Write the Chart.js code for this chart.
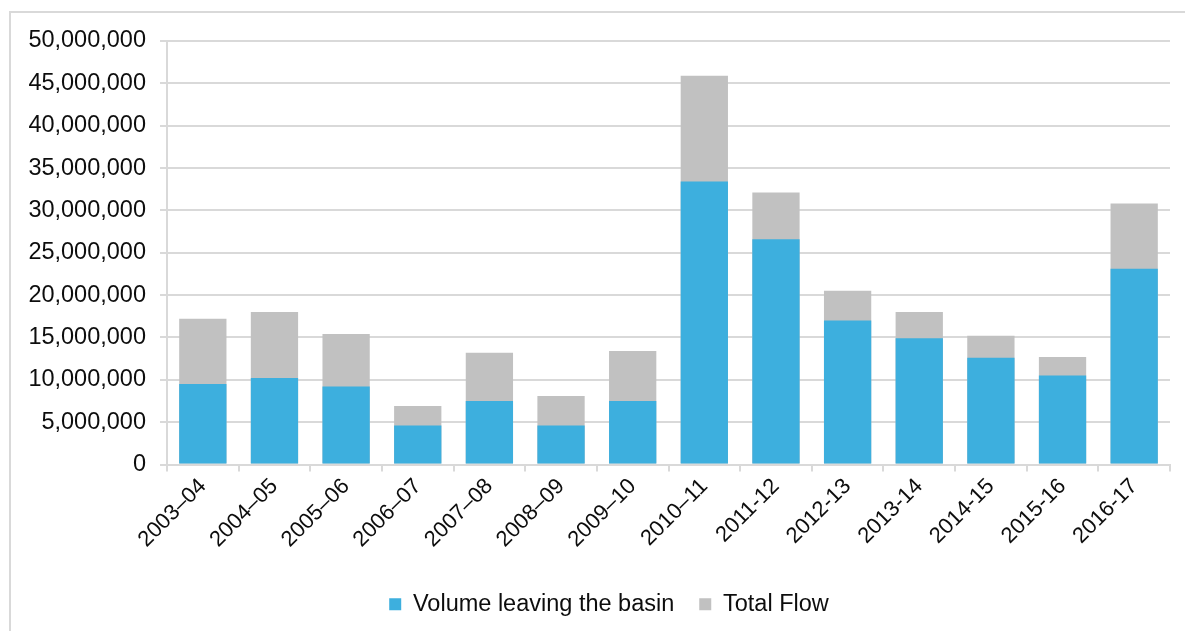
<!DOCTYPE html>
<html>
<head>
<meta charset="utf-8">
<script src="https://cdn.jsdelivr.net/npm/chart.js@4"></script>
<style>
  html, body { margin: 0; padding: 0; background: #fff; }
  body { width: 1185px; height: 631px; overflow: hidden; position: relative; }
  .frame { position: absolute; left: 9px; top: 11px; width: 1200px; height: 640px; border: 2px solid #d9d9d9; box-sizing: border-box; }
  .wrap { position: absolute; left: 0; top: 0; width: 1185px; height: 626px; }
</style>
</head>
<body>
<div class="frame"></div>
<div class="wrap"><canvas id="grafico"></canvas></div>
<script>
const anos = ['2003–04', '2004–05', '2005–06', '2006–07', '2007–08', '2008–09', '2009–10',
  '2010–11', '2011-12', '2012-13', '2013-14', '2014-15', '2015-16', '2016-17'];
const volumeSaida = [9500000, 10200000, 9200000, 4600000, 7500000, 4600000, 7500000,
  33400000, 26600000, 17000000, 14900000, 12600000, 10500000, 23100000];
const fluxoTotal = [17200000, 18000000, 15400000, 6900000, 13200000, 8100000, 13400000,
  45900000, 32100000, 20500000, 18000000, 15200000, 12700000, 30800000];
const ticksY = [0, 5000000, 10000000, 15000000, 20000000, 25000000, 30000000, 35000000, 40000000, 45000000, 50000000];

Chart.defaults.font.family = '"Liberation Sans", Arial, sans-serif';
Chart.defaults.color = '#0d0d0d';

// legenda fica um pouco à direita do centro, como no original
const moveLegenda = {
  id: 'moveLegenda',
  afterLayout(chart) {
    chart.legend.left += 24;
    chart.legend.right += 24;
  }
};

const ctx = document.getElementById('grafico');

new Chart(ctx, {
  type: 'bar',
  data: {
    labels: anos,
    datasets: [{
      label: 'Volume leaving the basin',
      data: volumeSaida,
      backgroundColor: '#3dafde',
      borderWidth: 0
    }, {
      label: 'Total Flow',
      data: fluxoTotal,
      backgroundColor: '#c1c1c1',
      borderWidth: 0
    }]
  },
  options: {
    responsive: true,
    maintainAspectRatio: false,
    animation: false,
    datasets: { bar: { categoryPercentage: 1, barPercentage: 0.66 } },
    layout: { padding: { top: 41, right: 15, bottom: 0, left: 0 } },
    plugins: {
      tooltip: { enabled: false },
      legend: {
        position: 'bottom',
        labels: { font: { size: 23.5 }, boxWidth: 12, boxHeight: 12, padding: 25 }
      }
    },
    scales: {
      x: {
        stacked: true,
        afterFit: s => { s.height = 103; },
        grid: { offset: true, drawOnChartArea: false, drawTicks: true, tickLength: 7, color: '#d9d9d9', lineWidth: 2 },
        border: { color: '#d9d9d9', width: 2 },
        ticks: { font: { size: 22 }, minRotation: 45, maxRotation: 45, padding: 2 }
      },
      y: {
        stacked: false,
        min: 0,
        max: 50000000,
        afterFit: s => { s.width = 167; },
        afterBuildTicks: s => { s.ticks = ticksY.map(v => ({ value: v })); },
        grid: { color: '#d9d9d9', lineWidth: 2, tickLength: 7 },
        border: { color: '#d9d9d9', width: 2 },
        ticks: {
          font: { size: 23.5 },
          padding: 14,
          callback: v => v.toLocaleString('en-US')
        }
      }
    }
  },
  plugins: [moveLegenda]
});
</script>
</body>
</html>
